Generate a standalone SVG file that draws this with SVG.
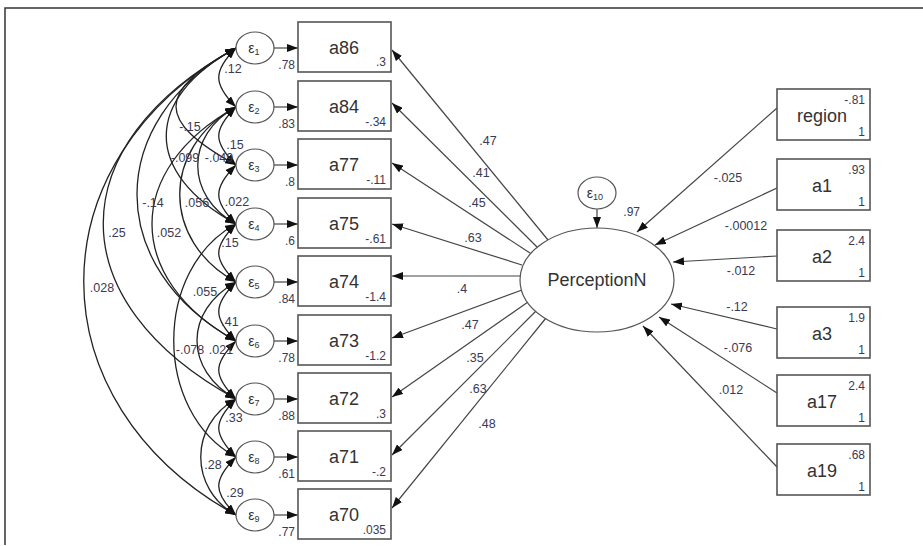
<svg xmlns="http://www.w3.org/2000/svg" width="923" height="546" viewBox="0 0 923 546">
<style>
.box{fill:#fff;stroke:#555;stroke-width:1.6}
.ell{fill:#fff;stroke:#555;stroke-width:1.2}
.big{font-family:"Liberation Sans",Arial,sans-serif;font-size:18px;fill:#333;text-anchor:middle}
.sm{font-family:"Liberation Sans",Arial,sans-serif;font-size:12px;fill:#3a3a55;text-anchor:end}
.lbl{font-family:"Liberation Sans",Arial,sans-serif;font-size:12.5px;fill:#3a3a55;text-anchor:middle}
.eps{font-family:"Liberation Sans",Arial,sans-serif;font-size:14px;fill:#333;text-anchor:middle}
.path{fill:none;stroke:#444;stroke-width:1.2;marker-end:url(#ah)}
.cov{fill:none;stroke:#222;stroke-width:1.3;marker-start:url(#ahs);marker-end:url(#ah)}
</style>
<defs>
<marker id="ah" markerUnits="userSpaceOnUse" markerWidth="11" markerHeight="8" refX="11" refY="4" orient="auto"><path d="M0,0 L11,4 L0,8 z" fill="#111"/></marker>
<marker id="ahs" markerUnits="userSpaceOnUse" markerWidth="11" markerHeight="8" refX="11" refY="4" orient="auto-start-reverse"><path d="M0,0 L11,4 L0,8 z" fill="#111"/></marker>
</defs>
<rect width="923" height="546" fill="#fff"/>
<path d="M5,545 L5,8 L923,8" fill="none" stroke="#333" stroke-width="1.5"/>

<g id="connectors">
<path class="path" d="M274,48 L298,48"/>
<path class="path" d="M274,107 L298,107"/>
<path class="path" d="M274,165 L298,165"/>
<path class="path" d="M274,224 L298,224"/>
<path class="path" d="M274,282 L298,282"/>
<path class="path" d="M274,341 L298,341"/>
<path class="path" d="M274,399 L298,399"/>
<path class="path" d="M274,457 L298,457"/>
<path class="path" d="M274,515 L298,515"/>
<path class="path" d="M548,240 L392,50"/>
<path class="path" d="M537,247 L392,103"/>
<path class="path" d="M530,253 L392,163"/>
<path class="path" d="M522,265 L392,224"/>
<path class="path" d="M520,276 L392,276"/>
<path class="path" d="M522,290 L392,338"/>
<path class="path" d="M528,302 L392,397"/>
<path class="path" d="M536,311 L392,455"/>
<path class="path" d="M546,318 L392,508"/>
<path class="path" d="M777,108 L637,232"/>
<path class="path" d="M777,188 L655,245"/>
<path class="path" d="M777,256 L673,262"/>
<path class="path" d="M777,329 L671,304"/>
<path class="path" d="M777,393 L659,317"/>
<path class="path" d="M777,467 L643,326"/>
<path class="path" d="M597,209 L597,228"/>
<path class="cov" d="M236,48 C213,71 213,84 236,107"/>
<path class="cov" d="M236,107 C213,130 213,142 236,165"/>
<path class="cov" d="M236,165 C213,188 213,201 236,224"/>
<path class="cov" d="M236,224 C213,247 213,259 236,282"/>
<path class="cov" d="M236,282 C213,305 213,318 236,341"/>
<path class="cov" d="M236,341 C213,364 213,376 236,399"/>
<path class="cov" d="M236,399 C213,422 213,434 236,457"/>
<path class="cov" d="M236,457 C213,480 213,492 236,515"/>
<path class="cov" d="M236,48 C156,92 156,121 236,165"/>
<path class="cov" d="M236,48 C143,99 143,173 236,224"/>
<path class="cov" d="M236,107 C185,135 185,196 236,224"/>
<path class="cov" d="M236,48 C104,121 104,268 236,341"/>
<path class="cov" d="M236,107 C161,148 161,241 236,282"/>
<path class="cov" d="M236,107 C124,169 124,279 236,341"/>
<path class="cov" d="M236,48 C59,145 59,302 236,399"/>
<path class="cov" d="M236,48 C33,160 33,403 236,515"/>
<path class="cov" d="M236,282 C184,311 184,370 236,399"/>
<path class="cov" d="M236,224 C153,269 153,412 236,457"/>
<path class="cov" d="M236,399 C189,425 189,489 236,515"/>
</g>

<g id="connector-labels">
<text class="lbl" x="233" y="73">.12</text>
<text class="lbl" x="235" y="149">.15</text>
<text class="lbl" x="190" y="131">-.15</text>
<text class="lbl" x="185" y="162">-.099</text>
<text class="lbl" x="219" y="162">-.049</text>
<text class="lbl" x="237" y="206">.022</text>
<text class="lbl" x="153" y="207">-.14</text>
<text class="lbl" x="197" y="207">.056</text>
<text class="lbl" x="117" y="237">.25</text>
<text class="lbl" x="169" y="237">.052</text>
<text class="lbl" x="230" y="247">.15</text>
<text class="lbl" x="102" y="292">.028</text>
<text class="lbl" x="205" y="296">.055</text>
<text class="lbl" x="230" y="326">.41</text>
<text class="lbl" x="190" y="354">-.078</text>
<text class="lbl" x="221" y="354">.021</text>
<text class="lbl" x="234" y="422">.33</text>
<text class="lbl" x="213" y="469">.28</text>
<text class="lbl" x="235" y="497">.29</text>
<text class="lbl" x="488" y="145">.47</text>
<text class="lbl" x="481" y="177">.41</text>
<text class="lbl" x="477" y="207">.45</text>
<text class="lbl" x="473" y="242">.63</text>
<text class="lbl" x="462" y="293">.4</text>
<text class="lbl" x="470" y="329">.47</text>
<text class="lbl" x="475" y="362">.35</text>
<text class="lbl" x="478" y="393">.63</text>
<text class="lbl" x="487" y="428">.48</text>
<text class="lbl" x="728" y="182">-.025</text>
<text class="lbl" x="746" y="230">-.00012</text>
<text class="lbl" x="741" y="275">-.012</text>
<text class="lbl" x="737" y="311">-.12</text>
<text class="lbl" x="738" y="352">-.076</text>
<text class="lbl" x="731" y="394">.012</text>
</g>

<g id="e1"><ellipse class="ell" cx="255" cy="48" rx="19" ry="16"/><text class="eps" x="254" y="53">ε<tspan font-size="9" dy="2">1</tspan></text><text class="sm" x="295" y="69">.78</text></g>
<g id="e2"><ellipse class="ell" cx="255" cy="107" rx="19" ry="16"/><text class="eps" x="254" y="112">ε<tspan font-size="9" dy="2">2</tspan></text><text class="sm" x="295" y="128">.83</text></g>
<g id="e3"><ellipse class="ell" cx="255" cy="165" rx="19" ry="16"/><text class="eps" x="254" y="170">ε<tspan font-size="9" dy="2">3</tspan></text><text class="sm" x="295" y="186">.8</text></g>
<g id="e4"><ellipse class="ell" cx="255" cy="224" rx="19" ry="16"/><text class="eps" x="254" y="229">ε<tspan font-size="9" dy="2">4</tspan></text><text class="sm" x="295" y="245">.6</text></g>
<g id="e5"><ellipse class="ell" cx="255" cy="282" rx="19" ry="16"/><text class="eps" x="254" y="287">ε<tspan font-size="9" dy="2">5</tspan></text><text class="sm" x="295" y="303">.84</text></g>
<g id="e6"><ellipse class="ell" cx="255" cy="341" rx="19" ry="16"/><text class="eps" x="254" y="346">ε<tspan font-size="9" dy="2">6</tspan></text><text class="sm" x="295" y="362">.78</text></g>
<g id="e7"><ellipse class="ell" cx="255" cy="399" rx="19" ry="16"/><text class="eps" x="254" y="404">ε<tspan font-size="9" dy="2">7</tspan></text><text class="sm" x="295" y="420">.88</text></g>
<g id="e8"><ellipse class="ell" cx="255" cy="457" rx="19" ry="16"/><text class="eps" x="254" y="462">ε<tspan font-size="9" dy="2">8</tspan></text><text class="sm" x="295" y="478">.61</text></g>
<g id="e9"><ellipse class="ell" cx="255" cy="515" rx="19" ry="16"/><text class="eps" x="254" y="520">ε<tspan font-size="9" dy="2">9</tspan></text><text class="sm" x="295" y="536">.77</text></g>

<g id="a86"><rect class="box" x="298" y="22" width="93" height="50"/><text class="big" x="344" y="54">a86</text><text class="sm" x="386" y="66">.3</text></g>
<g id="a84"><rect class="box" x="298" y="81" width="93" height="50"/><text class="big" x="344" y="113">a84</text><text class="sm" x="386" y="126">-.34</text></g>
<g id="a77"><rect class="box" x="298" y="139" width="93" height="50"/><text class="big" x="344" y="171">a77</text><text class="sm" x="386" y="184">-.11</text></g>
<g id="a75"><rect class="box" x="298" y="198" width="93" height="50"/><text class="big" x="344" y="230">a75</text><text class="sm" x="386" y="243">-.61</text></g>
<g id="a74"><rect class="box" x="298" y="256" width="93" height="50"/><text class="big" x="344" y="288">a74</text><text class="sm" x="386" y="301">-1.4</text></g>
<g id="a73"><rect class="box" x="298" y="315" width="93" height="50"/><text class="big" x="344" y="347">a73</text><text class="sm" x="386" y="360">-1.2</text></g>
<g id="a72"><rect class="box" x="298" y="373" width="93" height="50"/><text class="big" x="344" y="405">a72</text><text class="sm" x="386" y="418">.3</text></g>
<g id="a71"><rect class="box" x="298" y="431" width="93" height="50"/><text class="big" x="344" y="463">a71</text><text class="sm" x="386" y="476">-.2</text></g>
<g id="a70"><rect class="box" x="298" y="489" width="93" height="50"/><text class="big" x="344" y="521">a70</text><text class="sm" x="386" y="534">.035</text></g>

<g id="PerceptionN"><ellipse class="ell" cx="597" cy="280" rx="77" ry="52"/><text class="big" x="597" y="286">PerceptionN</text></g>
<g id="e10"><ellipse class="ell" cx="597" cy="193" rx="19" ry="16"/><text class="eps" x="595" y="198">ε<tspan font-size="9" dy="2">10</tspan></text><text class="sm" x="640" y="216">.97</text></g>

<g id="region"><rect class="box" x="777" y="89" width="93" height="51"/><text class="big" x="822" y="122">region</text><text class="sm" x="865" y="104">-.81</text><text class="sm" x="865" y="136">1</text></g>
<g id="a1"><rect class="box" x="777" y="159" width="93" height="51"/><text class="big" x="822" y="192">a1</text><text class="sm" x="865" y="174">.93</text><text class="sm" x="865" y="206">1</text></g>
<g id="a2"><rect class="box" x="777" y="230" width="93" height="51"/><text class="big" x="822" y="263">a2</text><text class="sm" x="865" y="245">2.4</text><text class="sm" x="865" y="277">1</text></g>
<g id="a3"><rect class="box" x="777" y="307" width="93" height="51"/><text class="big" x="822" y="340">a3</text><text class="sm" x="865" y="322">1.9</text><text class="sm" x="865" y="354">1</text></g>
<g id="a17"><rect class="box" x="777" y="375" width="93" height="51"/><text class="big" x="822" y="408">a17</text><text class="sm" x="865" y="390">2.4</text><text class="sm" x="865" y="422">1</text></g>
<g id="a19"><rect class="box" x="777" y="444" width="93" height="51"/><text class="big" x="822" y="477">a19</text><text class="sm" x="865" y="459">.68</text><text class="sm" x="865" y="491">1</text></g>
</svg>
